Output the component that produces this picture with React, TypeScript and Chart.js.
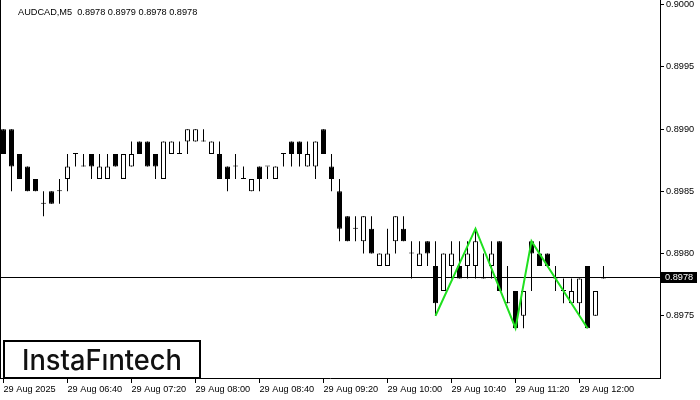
import React, { useEffect, useRef } from "react";
import { Chart, registerables } from "chart.js";

Chart.register(...registerables);

const headerText = "AUDCAD,M5  0.8978 0.8979 0.8978 0.8978";
const logoText = "InstaFıntech";

const candleOpen = [
  0.899, 0.899, 0.8988, 0.8987, 0.8986, 0.8984, 0.8985, 0.8985, 0.8986, 0.8988,
  0.8987, 0.8988, 0.8986, 0.8986, 0.8988, 0.8986, 0.8987, 0.8989, 0.8989, 0.8988,
  0.8986, 0.8988, 0.8988, 0.8989, 0.8989, 0.8989, 0.8988, 0.8988, 0.8987, 0.8987,
  0.8986, 0.8985, 0.8987, 0.8987, 0.8986, 0.8988, 0.8989, 0.8989, 0.8987, 0.8987,
  0.899, 0.8987, 0.8985, 0.8983, 0.8982, 0.8981, 0.8982, 0.8979, 0.8979, 0.8981,
  0.8982, 0.898, 0.8979, 0.8981, 0.8979, 0.8977, 0.8979, 0.8979, 0.8979, 0.8979,
  0.8978, 0.8979, 0.8981, 0.8976, 0.8977, 0.8975, 0.8981, 0.898, 0.898, 0.8978,
  0.8977, 0.8976, 0.8976, 0.8979, 0.8975, 0.8978,
];
const candleHigh = [
  0.899, 0.899, 0.8988, 0.8987, 0.8986, 0.8985, 0.8985, 0.8986, 0.8988, 0.8988,
  0.8988, 0.8988, 0.8988, 0.8988, 0.8988, 0.8988, 0.8989, 0.8989, 0.8989, 0.8988,
  0.8989, 0.8989, 0.8989, 0.899, 0.899, 0.899, 0.8989, 0.8989, 0.8987, 0.8988,
  0.8987, 0.8986, 0.8987, 0.8987, 0.8987, 0.8988, 0.8989, 0.8989, 0.8989, 0.8989,
  0.899, 0.8988, 0.8986, 0.8983, 0.8983, 0.8983, 0.8983, 0.898, 0.8982, 0.8983,
  0.8983, 0.8981, 0.8981, 0.8981, 0.8981, 0.898, 0.8981, 0.8981, 0.8981, 0.8982,
  0.898, 0.8981, 0.8981, 0.8979, 0.8977, 0.8977, 0.8981, 0.8981, 0.898, 0.8979,
  0.8978, 0.8978, 0.8978, 0.8979, 0.8977, 0.8979,
];
const candleLow = [
  0.8988, 0.8985, 0.8986, 0.8985, 0.8985, 0.8983, 0.8984, 0.8984, 0.8985, 0.8987,
  0.8987, 0.8986, 0.8986, 0.8986, 0.8987, 0.8986, 0.8987, 0.8988, 0.8987, 0.8986,
  0.8986, 0.8988, 0.8988, 0.8988, 0.8989, 0.8989, 0.8988, 0.8986, 0.8985, 0.8986,
  0.8986, 0.8985, 0.8985, 0.8986, 0.8986, 0.8987, 0.8987, 0.8987, 0.8987, 0.8986,
  0.8988, 0.8985, 0.8981, 0.8981, 0.8981, 0.898, 0.898, 0.8979, 0.8979, 0.898,
  0.8981, 0.8978, 0.8979, 0.8979, 0.8975, 0.8977, 0.8978, 0.8978, 0.8978, 0.8978,
  0.8978, 0.8978, 0.8977, 0.8976, 0.8974, 0.8974, 0.8977, 0.8979, 0.8979, 0.8977,
  0.8976, 0.8976, 0.8975, 0.8974, 0.8975, 0.8978,
];
const candleClose = [
  0.8988, 0.8987, 0.8986, 0.8985, 0.8985, 0.8984, 0.8984, 0.8985, 0.8987, 0.8988,
  0.8987, 0.8987, 0.8987, 0.8987, 0.8987, 0.8988, 0.8988, 0.8988, 0.8987, 0.8987,
  0.8989, 0.8989, 0.8988, 0.899, 0.899, 0.8989, 0.8989, 0.8986, 0.8986, 0.8987,
  0.8986, 0.8986, 0.8986, 0.8987, 0.8987, 0.8988, 0.8988, 0.8988, 0.8988, 0.8989,
  0.8988, 0.8986, 0.8982, 0.8981, 0.8982, 0.8983, 0.898, 0.898, 0.898, 0.8983,
  0.8981, 0.898, 0.898, 0.898, 0.8976, 0.898, 0.898, 0.8978, 0.898, 0.8981,
  0.8978, 0.898, 0.8977, 0.8976, 0.8974, 0.8977, 0.898, 0.8979, 0.8979, 0.8978,
  0.8977, 0.8977, 0.8978, 0.8974, 0.8977, 0.8978,
];

const xTickIndex = [0, 8, 16, 24, 32, 40, 48, 56, 64, 72];
const xTickLabels = [
  "29 Aug 2025", "29 Aug 06:40", "29 Aug 07:20", "29 Aug 08:00", "29 Aug 08:40",
  "29 Aug 09:20", "29 Aug 10:00", "29 Aug 10:40", "29 Aug 11:20", "29 Aug 12:00",
];
const yTicks = [0.9, 0.8995, 0.899, 0.8985, 0.898, 0.8975];
const currentPrice = 0.8978;

const patternIndex = [54, 59, 64, 66, 73];
const patternPrice = [0.8975, 0.8982, 0.8974, 0.8981, 0.8974];

const X_MIN = -0.4375;
const X_MAX = 82.0625;
const Y_MIN = 0.897;
const Y_MAX = 0.900038;

const FONT = "Liberation Sans";
const FSIZE = 9.2;

const overlayPlugin = {
  id: "mtOverlay",
  beforeDatasetsDraw(chart: any) {
    const { ctx, chartArea } = chart;
    const y = chart.scales.y.getPixelForValue(currentPrice);
    ctx.save();
    ctx.fillStyle = "#000";
    ctx.fillRect(chartArea.left, Math.round(y) - 1, chartArea.right - chartArea.left, 1);
    ctx.restore();
  },
  afterDraw(chart: any) {
    const { ctx, chartArea } = chart;
    const yScale = chart.scales.y;
    ctx.save();
    // left frame
    ctx.fillStyle = "#000";
    ctx.fillRect(0, 0, 1, chartArea.bottom);
    // header
    ctx.font = `${FSIZE}px "${FONT}"`;
    ctx.fillStyle = "#000";
    ctx.textBaseline = "alphabetic";
    ctx.textAlign = "left";
    ctx.fillText(headerText, 18, 14.5);
    // price label
    const py = Math.round(yScale.getPixelForValue(currentPrice)) - 1;
    ctx.fillStyle = "#000";
    ctx.fillRect(chartArea.right + 1, py - 5, 36, 11);
    ctx.fillStyle = "#fff";
    ctx.textBaseline = "middle";
    ctx.fillText(currentPrice.toFixed(4), chartArea.right + 5, py + 0.5);
    // logo
    ctx.fillStyle = "#fff";
    ctx.fillRect(4, 341, 196, 37);
    ctx.strokeStyle = "#000";
    ctx.lineWidth = 2;
    ctx.strokeRect(4, 341, 196, 37);
    ctx.font = `500 29px "Inter"`;
    const w = ctx.measureText(logoText).width;
    ctx.translate(22, 370);
    ctx.scale(160 / w, 1);
    ctx.fillStyle = "#111";
    ctx.textBaseline = "alphabetic";
    ctx.fillText(logoText, 0, 0);
    ctx.restore();
  },
};

export default function App() {
  const canvasRef = useRef<HTMLCanvasElement | null>(null);

  useEffect(() => {
    document.body.style.margin = "0";
    const canvas = canvasRef.current;
    if (!canvas) return;

    const bodyColors = candleOpen.map((o, i) => (candleClose[i] > o ? "#ffffff" : "#000000"));

    const chart = new Chart(canvas, {
      type: "bar",
      data: {
        datasets: [
          {
            type: "line",
            data: patternIndex.map((x, k) => ({ x, y: patternPrice[k] })),
            borderColor: "#1fe01f",
            borderWidth: 2,
            pointRadius: 0,
            tension: 0,
            order: 0,
          } as any,
          {
            type: "bar",
            data: candleOpen.map((o, i) => ({ x: i, y: [o, candleClose[i]] })),
            backgroundColor: bodyColors,
            borderColor: "#000",
            borderWidth: 1,
            borderSkipped: false,
            barThickness: 5,
            minBarLength: 1,
            grouped: false,
            inflateAmount: 0,
            order: 1,
          } as any,
          {
            type: "bar",
            data: candleLow.map((l, i) => ({ x: i, y: [l, candleHigh[i]] })),
            backgroundColor: "#000",
            borderWidth: 0,
            barThickness: 1,
            grouped: false,
            inflateAmount: 0,
            order: 2,
          } as any,
        ],
      },
      options: {
        animation: false,
        responsive: false,
        devicePixelRatio: 1,
        layout: { padding: 0 },
        plugins: {
          legend: { display: false },
          tooltip: { enabled: false },
        },
        scales: {
          x: {
            type: "linear",
            min: X_MIN,
            max: X_MAX,
            offset: false,
            position: "bottom",
            grid: {
              display: true,
              drawOnChartArea: false,
              drawTicks: true,
              tickLength: 5,
              color: "#000",
              offset: false,
            },
            border: { display: true, color: "#000", width: 1 },
            ticks: {
              autoSkip: false,
              maxRotation: 0,
              minRotation: 0,
              align: "start",
              padding: 1,
              color: "#000",
              font: { family: FONT, size: FSIZE },
              callback: (value: any) => {
                const k = xTickIndex.indexOf(Number(value));
                return k >= 0 ? xTickLabels[k] : "";
              },
            },
            afterBuildTicks: (axis: any) => {
              axis.ticks = xTickIndex.map((v) => ({ value: v }));
            },
            afterFit: (axis: any) => {
              axis.height = 22;
              axis.paddingLeft = 0;
              axis.paddingRight = 0;
            },
          } as any,
          y: {
            type: "linear",
            position: "right",
            min: Y_MIN,
            max: Y_MAX,
            grid: {
              display: true,
              drawOnChartArea: false,
              drawTicks: true,
              tickLength: 4,
              color: "#000",
            },
            border: { display: true, color: "#000", width: 1 },
            ticks: {
              padding: 2,
              color: "#000",
              crossAlign: "near",
              font: { family: FONT, size: FSIZE },
              callback: (value: any) => Number(value).toFixed(4),
            },
            afterBuildTicks: (axis: any) => {
              axis.ticks = yTicks.map((v) => ({ value: v }));
            },
            afterFit: (axis: any) => {
              axis.width = 40;
              axis.paddingTop = 0;
              axis.paddingBottom = 0;
            },
          } as any,
        },
      },
      plugins: [overlayPlugin],
    });

    return () => {
      chart.destroy();
    };
  }, []);

  return (
    <div style={{ width: 700, height: 400, background: "#fff" }}>
      <canvas ref={canvasRef} width={700} height={400} style={{ display: "block" }} />
    </div>
  );
}
